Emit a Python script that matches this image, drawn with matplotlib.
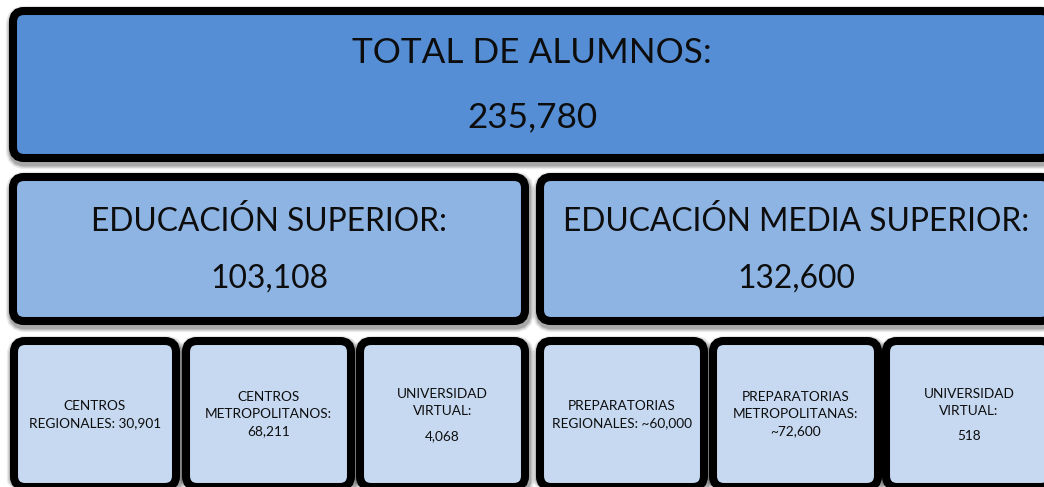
import matplotlib.pyplot as plt
from matplotlib.patches import FancyBboxPatch

plt.rcParams["font.family"] = ["Lato", "DejaVu Sans"]

W, H = 1044, 487

total_label = "TOTAL DE ALUMNOS:"
total_value = "235,780"
level_labels = ["EDUCACIÓN SUPERIOR:", "EDUCACIÓN MEDIA SUPERIOR:"]
level_values = ["103,108", "132,600"]
unit_names = [
    ["CENTROS", "REGIONALES: 30,901"],
    ["CENTROS", "METROPOLITANOS:"],
    ["UNIVERSIDAD", "VIRTUAL:"],
    ["PREPARATORIAS", "REGIONALES: ~60,000"],
    ["PREPARATORIAS", "METROPOLITANAS:"],
    ["UNIVERSIDAD", "VIRTUAL:"],
]
unit_values = ["", "68,211", "4,068", "", "~72,600", "518"]

DARK = "#558ed5"
MID = "#8eb4e3"
LIGHT = "#c6d9f1"

fig = plt.figure(figsize=(W / 100, H / 100), dpi=100)
ax = fig.add_axes([0, 0, 1, 1])
ax.set_xlim(0, W)
ax.set_ylim(H, 0)
ax.axis("off")


def box(x0, y0, x1, y1, color):
    # soft shadow first, then the box with thick black outline
    for k, a in ((6, 0.08), (4, 0.12), (2, 0.18)):
        ax.add_patch(
            FancyBboxPatch(
                (x0 + 1, y0 + 3), x1 - x0, y1 - y0,
                boxstyle="round,pad=0,rounding_size=11",
                facecolor="none", edgecolor="black", alpha=a,
                linewidth=5.8 + k, zorder=1,
            )
        )
    ax.add_patch(
        FancyBboxPatch(
            (x0, y0), x1 - x0, y1 - y0,
            boxstyle="round,pad=0,rounding_size=11",
            facecolor=color, edgecolor="black", linewidth=5.8, zorder=2,
        )
    )


def label(x, y, s, size):
    ax.text(x, y, s, ha="center", va="baseline", fontsize=size,
            color="#0d0d0d", zorder=3)


# top box
box(13, 11, 1052, 158, DARK)
label(532, 63, total_label, 25.3)
label(532, 127, total_value, 25.3)

# second row
level_boxes = [(13, 525), (540, 1052)]
for (x0, x1), name, value in zip(level_boxes, level_labels, level_values):
    box(x0, 177, x1, 321, MID)
    cx = (x0 + x1) / 2
    label(cx, 231, name, 22.9)
    label(cx, 288, value, 22.9)

# bottom row
unit_boxes = [(14, 176), (186, 351), (360, 525), (540, 704), (713, 878), (886, 1052)]
for i, ((x0, x1), lines, value) in enumerate(zip(unit_boxes, unit_names, unit_values)):
    box(x0, 341, x1, 487, LIGHT)
    cx = (x0 + x1) / 2
    if not value:
        label(cx, 410, lines[0], 9.8)
        label(cx, 427, lines[1], 9.8)
    elif i % 3 == 1:
        label(cx, 401, lines[0], 9.8)
        label(cx, 418, lines[1], 9.8)
        label(cx, 435, value, 9.8)
    else:
        label(cx, 398, lines[0], 9.8)
        label(cx, 415, lines[1], 9.8)
        label(cx, 440, value, 9.8)

fig.savefig("out.png", dpi=100, facecolor="white")
